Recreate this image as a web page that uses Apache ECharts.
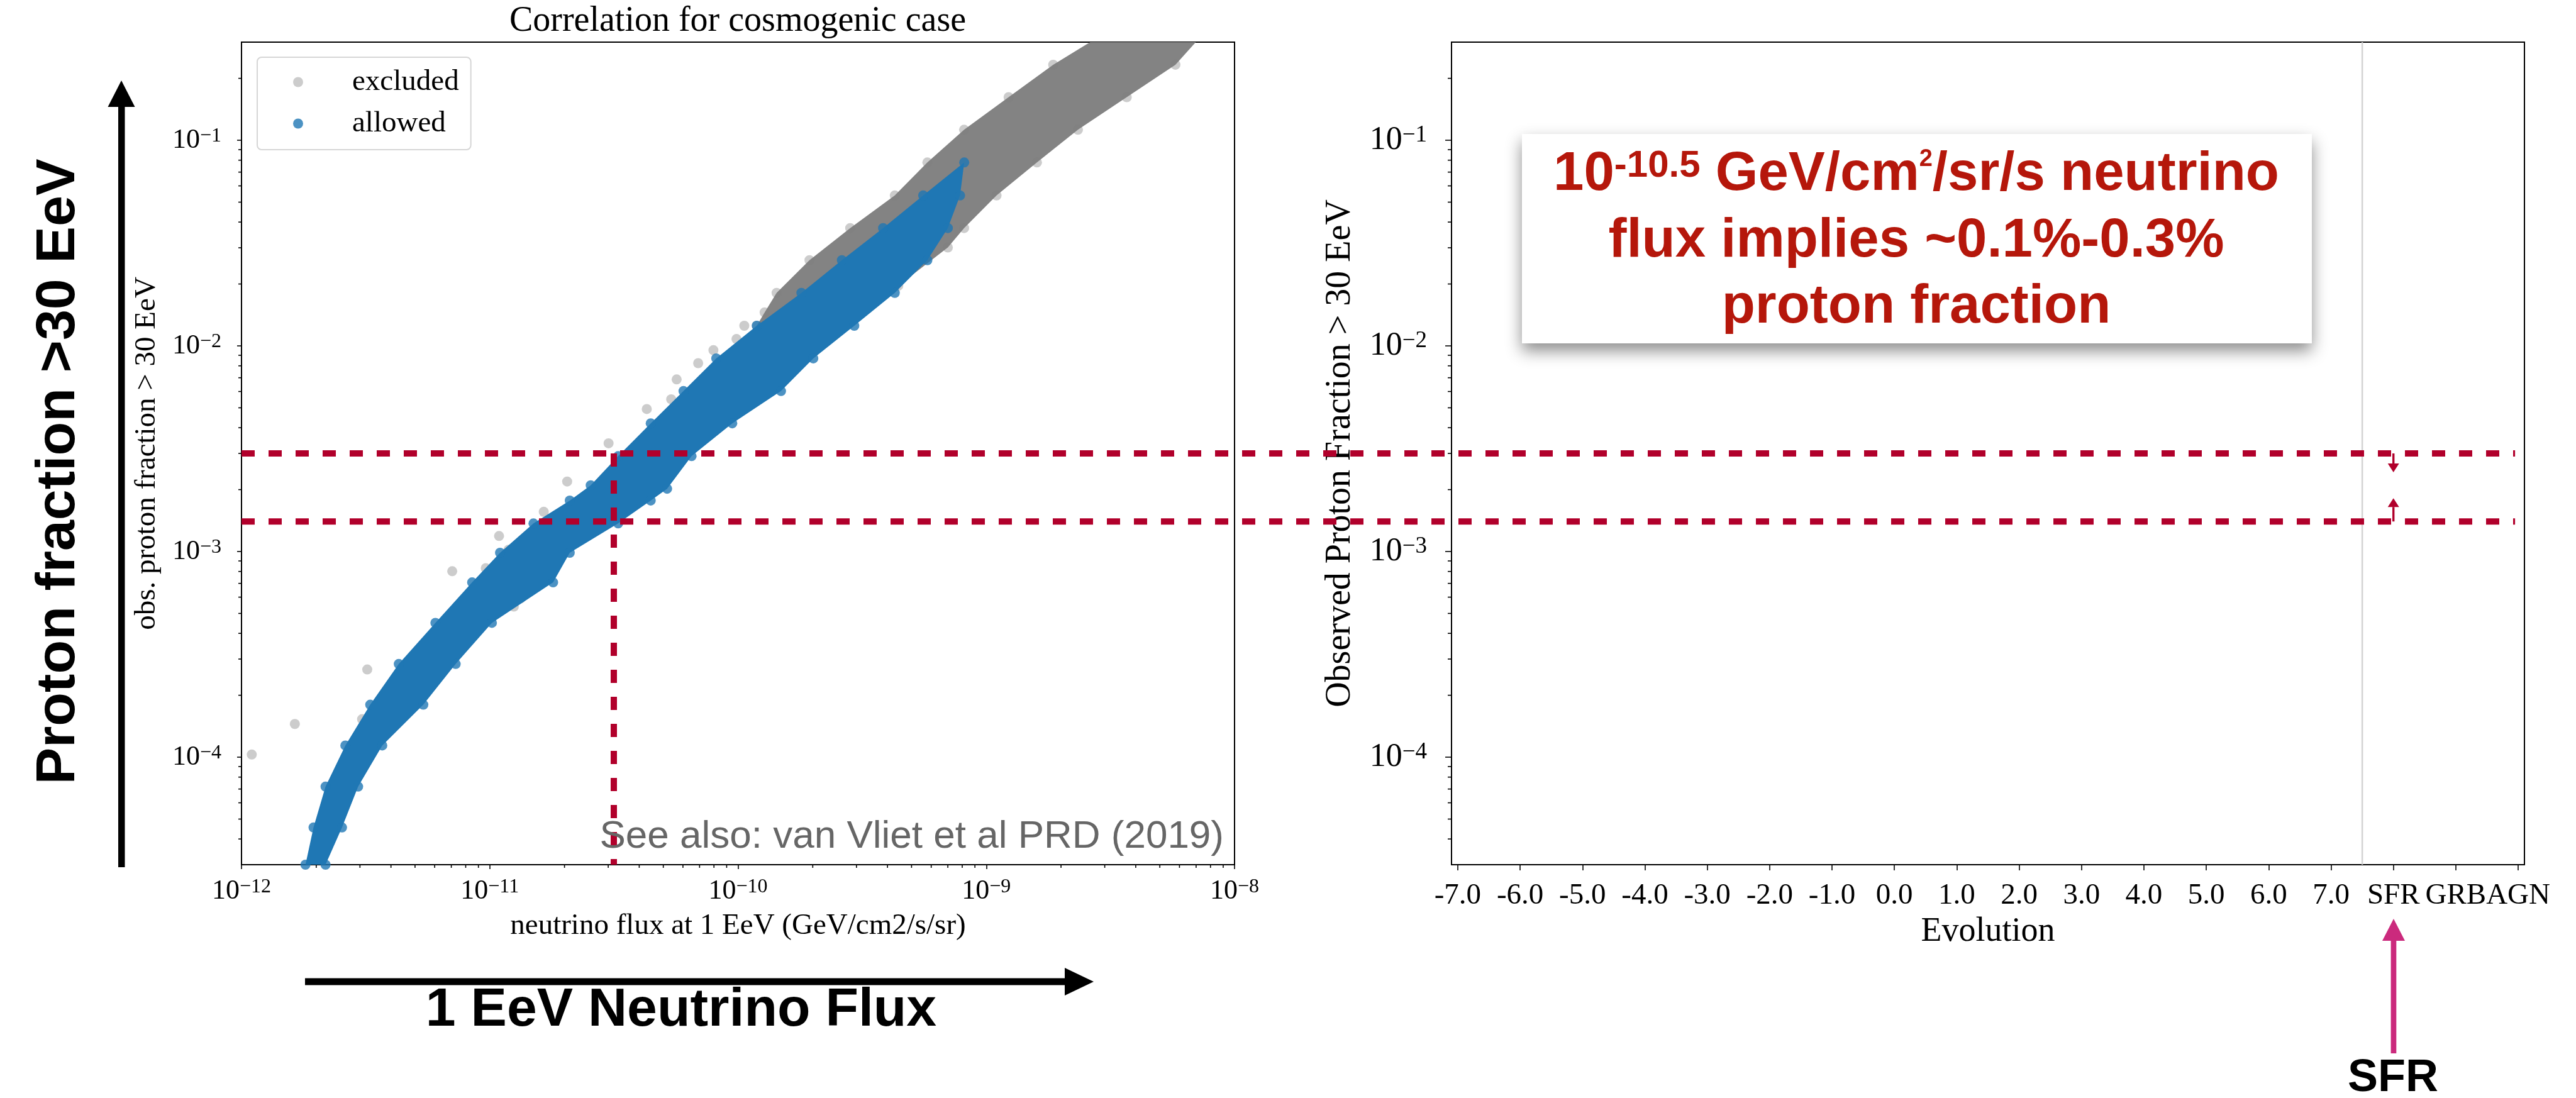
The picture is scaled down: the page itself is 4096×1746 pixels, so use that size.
<!DOCTYPE html>
<html>
<head>
<meta charset="utf-8">
<title>Correlation for cosmogenic case</title>
<script src="https://cdn.jsdelivr.net/npm/echarts@6.0.0/dist/echarts.min.js"></script>
<style>
  html, body { margin: 0; padding: 0; background: #fff; }
  #main { width: 4096px; height: 1746px; }
</style>
</head>
<body>
<div id="main"></div>
<script>
// axes
const fluxRange = [1e-12, 1e-8];
const fractionRange = [3e-5, 0.3];
const evolutionRange = [-7.1, 10.1];
const fluxTicks = [1e-12, 1e-11, 1e-10, 1e-9, 1e-8];
const fractionTicks = [1e-4, 1e-3, 1e-2, 1e-1];
const evolutionTicks = [-7, -6, -5, -4, -3, -2, -1, 0, 1, 2, 3, 4, 5, 6, 7, 8, 9, 10];
const evolutionLabels = ['-7.0', '-6.0', '-5.0', '-4.0', '-3.0', '-2.0', '-1.0', '0.0', '1.0', '2.0',
  '3.0', '4.0', '5.0', '6.0', '7.0', 'SFR', 'GRB', 'AGN'];
const minorMantissas = [2, 3, 4, 5, 6, 7, 8, 9];
const fluxDecades = [1e-12, 1e-11, 1e-10, 1e-9];
const fractionDecades = [1e-5, 1e-4, 1e-3, 1e-2, 1e-1];

// allowed cloud (blue): upper-left edge bottom -> tip, lower-right edge tip -> bottom
const allowedUpperEdge = [
  [1.81e-12, 3.0e-5], [1.95e-12, 4.55e-5], [2.18e-12, 7.19e-5], [2.62e-12, 1.14e-4],
  [3.30e-12, 1.80e-4], [4.30e-12, 2.84e-4], [6.04e-12, 4.50e-4], [8.49e-12, 7.08e-4],
  [1.10e-11, 9.86e-4], [1.50e-11, 1.37e-3], [2.10e-11, 1.77e-3], [2.55e-11, 2.10e-3],
  [3.29e-11, 2.91e-3], [4.45e-11, 4.20e-3], [6.03e-11, 6.03e-3], [8.17e-11, 8.69e-3],
  [1.19e-10, 1.253e-2], [1.80e-10, 1.81e-2], [2.62e-10, 2.61e-2], [3.84e-10, 3.74e-2],
  [5.57e-10, 5.39e-2], [8.15e-10, 7.8e-2]
];
const allowedLowerEdge = [
  [7.84e-10, 5.39e-2], [7.00e-10, 3.74e-2], [5.79e-10, 2.61e-2], [4.28e-10, 1.81e-2],
  [2.94e-10, 1.253e-2], [2.01e-10, 8.69e-3], [1.49e-10, 6.03e-3], [9.48e-11, 4.20e-3],
  [6.50e-11, 2.91e-3], [5.18e-11, 2.02e-3], [4.45e-11, 1.77e-3], [3.29e-11, 1.37e-3],
  [2.10e-11, 9.86e-4], [1.80e-11, 7.08e-4], [1.02e-11, 4.50e-4], [7.29e-12, 2.84e-4],
  [5.40e-12, 1.80e-4], [3.69e-12, 1.14e-4], [2.95e-12, 7.19e-5], [2.54e-12, 4.55e-5],
  [2.18e-12, 3.0e-5]
];

// excluded cloud (grey): left edge top -> bottom, right edge top -> bottom
const excludedLeftEdge = [
  [2.62e-9, 0.30], [1.86e-9, 0.233], [1.23e-9, 0.162], [8.14e-10, 0.1125],
  [5.79e-10, 0.078], [4.28e-10, 0.0539], [2.83e-10, 0.0374], [1.94e-10, 0.0261],
  [1.43e-10, 0.0181], [1.28e-10, 0.01455], [1.19e-10, 0.01253]
];
const excludedRightEdge = [
  [6.98e-9, 0.30], [5.78e-9, 0.233], [3.68e-9, 0.162], [2.34e-9, 0.1125],
  [1.60e-9, 0.078], [1.10e-9, 0.0539], [8.14e-10, 0.0374], [7.00e-10, 0.0301],
  [4.42e-10, 0.0196], [2.07e-10, 0.0124]
];
const excludedOutliers = [
  [1.06e-10, 1.253e-2], [9.86e-11, 1.08e-2], [7.96e-11, 9.53e-3], [6.91e-11, 8.24e-3],
  [5.66e-11, 6.87e-3], [5.38e-11, 5.50e-3], [4.29e-11, 4.93e-3], [3.01e-11, 3.36e-3],
  [2.05e-11, 2.19e-3], [1.65e-11, 1.56e-3], [1.09e-11, 1.19e-3], [1.19e-11, 1.02e-3],
  [9.64e-12, 8.3e-4], [7.06e-12, 8.02e-4], [1.33e-11, 5.92e-4], [1.25e-11, 5.40e-4],
  [3.21e-12, 2.67e-4], [3.06e-12, 1.53e-4], [1.64e-12, 1.45e-4], [1.10e-12, 1.03e-4]
];

// proton fraction band implied by a 10^-10.5 flux
const fractionLimits = [3.0e-3, 1.4e-3];
const limitFlux = 3.16e-11;
const limitLineEnd = 9.95;
const limitArrows = [[8, 3.0e-3, -1], [8, 1.4e-3, 1]];
const separatorEvolution = 7.5;

const SERIF = '"Liberation Serif", "Times New Roman", serif';
const SANS = '"Liberation Sans", Arial, sans-serif';
const LINE_RED = '#b1002b';
const TEXT_RED = '#b5170b';

const chart = echarts.init(document.getElementById('main'));

function decadeMinors (decades, range) {
  const out = [];
  decades.forEach(d => minorMantissas.forEach(m => {
    const v = d * m;
    if (v > range[0] * 1.001 && v < range[1] * 0.999) out.push(v);
  }));
  return out;
}
const fluxMinorTicks = decadeMinors(fluxDecades, fluxRange);
const fractionMinorTicks = decadeMinors(fractionDecades, fractionRange);

const allowedOutline = allowedUpperEdge.concat(allowedLowerEdge);
const excludedOutline = excludedLeftEdge.concat(excludedRightEdge.slice().reverse());
const excludedPoints = excludedOutliers.concat(
  excludedLeftEdge.filter(p => p[1] < 0.29),
  excludedRightEdge.filter(p => p[1] < 0.29)
);

function powerLabel (v) {
  const e = Math.round(Math.log10(v));
  return '{b|10}{s|\u2212' + Math.abs(e) + '}';
}

function cloudRenderer (outline, color) {
  return function (params, api) {
    if (params.dataIndex !== 0) return;
    return {
      type: 'polygon',
      shape: { points: outline.map(p => api.coord(p)) },
      style: { fill: color }
    };
  };
}

function xTick (len) {
  return function (params, api) {
    const p = api.coord([api.value(0), api.value(1)]);
    return { type: 'line', shape: { x1: p[0], y1: p[1], x2: p[0], y2: p[1] + len }, style: { stroke: '#000', lineWidth: 1.6 } };
  };
}
function yTick (len) {
  return function (params, api) {
    const p = api.coord([api.value(0), api.value(1)]);
    return { type: 'line', shape: { x1: p[0], y1: p[1], x2: p[0] - len, y2: p[1] }, style: { stroke: '#000', lineWidth: 1.6 } };
  };
}

function limitArrow (params, api) {
  const p = api.coord([api.value(0), api.value(1)]);
  const dir = api.value(2); // 1 = lower limit (points up), -1 = upper limit (points down)
  const len = dir > 0 ? 37 : 30;
  const s = -dir;
  const tipY = p[1] + s * len;
  const baseY = tipY - s * 14;
  return {
    type: 'group',
    children: [
      { type: 'rect', shape: { x: p[0] - 1.7, y: Math.min(p[1], baseY), width: 3.4, height: Math.abs(baseY - p[1]) }, style: { fill: LINE_RED } },
      { type: 'polygon', shape: { points: [[p[0] - 9, baseY], [p[0] + 9, baseY], [p[0], tipY]] }, style: { fill: LINE_RED } }
    ]
  };
}

const axisBlack = { show: true, onZero: false, lineStyle: { color: '#000', width: 2 } };

chart.setOption({
  animation: false,
  backgroundColor: '#fff',
  textStyle: { fontFamily: SERIF },
  grid: [
    { left: 384, top: 67, width: 1579, height: 1308, show: true, borderColor: '#000', borderWidth: 2 },
    { left: 2308, top: 67, width: 1706, height: 1308, show: true, borderColor: '#000', borderWidth: 2 }
  ],
  legend: {
    data: ['excluded', 'allowed'],
    orient: 'vertical',
    left: 409,
    top: 91,
    icon: 'circle',
    itemWidth: 16,
    itemHeight: 16,
    itemGap: 19,
    padding: [16, 19, 18, 57],
    borderColor: '#d6d6d6',
    borderWidth: 2,
    borderRadius: 7,
    backgroundColor: '#fff',
    selectedMode: false,
    formatter: name => '{g| }{t|' + name + '}',
    textStyle: {
      rich: {
        g: { width: 73 },
        t: { fontFamily: SERIF, fontSize: 47, lineHeight: 47, color: '#000' }
      }
    }
  },
  xAxis: [
    {
      type: 'log', gridIndex: 0, min: fluxRange[0], max: fluxRange[1],
      axisLine: axisBlack,
      axisTick: { show: true, customValues: fluxTicks, length: 7, lineStyle: { color: '#000', width: 1.6 } },
      splitLine: { show: false },
      axisLabel: {
        customValues: fluxTicks, margin: 20, formatter: powerLabel,
        rich: {
          b: { fontFamily: SERIF, fontSize: 44, lineHeight: 44, color: '#000' },
          s: { fontFamily: SERIF, fontSize: 32, lineHeight: 20, verticalAlign: 'top', color: '#000' }
        }
      },
      name: 'neutrino flux at 1 EeV (GeV/cm2/s/sr)',
      nameLocation: 'middle',
      nameGap: 74,
      nameTextStyle: { fontFamily: SERIF, fontSize: 47, lineHeight: 47, color: '#000' }
    },
    {
      type: 'value', gridIndex: 1, min: evolutionRange[0], max: evolutionRange[1],
      axisLine: axisBlack,
      axisTick: { show: true, customValues: evolutionTicks, length: 9, lineStyle: { color: '#000', width: 1.6 } },
      splitLine: { show: false },
      axisLabel: {
        customValues: evolutionTicks, margin: 26,
        formatter: v => evolutionLabels[evolutionTicks.indexOf(Math.round(v))],
        fontFamily: SERIF, fontSize: 47, lineHeight: 47, color: '#000'
      },
      name: 'Evolution',
      nameLocation: 'middle',
      nameGap: 80,
      nameTextStyle: { fontFamily: SERIF, fontSize: 54, lineHeight: 54, color: '#000' }
    }
  ],
  yAxis: [
    {
      type: 'log', gridIndex: 0, min: fractionRange[0], max: fractionRange[1],
      axisLine: axisBlack,
      axisTick: { show: true, customValues: fractionTicks, length: 7, lineStyle: { color: '#000', width: 1.6 } },
      splitLine: { show: false },
      axisLabel: {
        customValues: fractionTicks, margin: 32, formatter: powerLabel,
        rich: {
          b: { fontFamily: SERIF, fontSize: 44, lineHeight: 44, color: '#000' },
          s: { fontFamily: SERIF, fontSize: 32, lineHeight: 20, verticalAlign: 'top', color: '#000' }
        }
      },
      name: 'obs. proton fraction > 30 EeV',
      nameLocation: 'middle',
      nameGap: 127,
      nameTextStyle: { fontFamily: SERIF, fontSize: 47, lineHeight: 47, color: '#000' }
    },
    {
      type: 'log', gridIndex: 1, min: fractionRange[0], max: fractionRange[1],
      axisLine: axisBlack,
      axisTick: { show: true, customValues: fractionTicks, length: 10, lineStyle: { color: '#000', width: 1.6 } },
      splitLine: { show: false },
      axisLabel: {
        customValues: fractionTicks, margin: 39, formatter: powerLabel,
        rich: {
          b: { fontFamily: SERIF, fontSize: 52, lineHeight: 52, color: '#000' },
          s: { fontFamily: SERIF, fontSize: 37, lineHeight: 23, verticalAlign: 'top', color: '#000' }
        }
      },
      name: 'Observed Proton Fraction > 30 EeV',
      nameLocation: 'middle',
      nameGap: 149,
      nameTextStyle: { fontFamily: SERIF, fontSize: 56, lineHeight: 56, color: '#000' }
    }
  ],
  series: [
    {
      name: 'excludedCloud', type: 'custom', xAxisIndex: 0, yAxisIndex: 0, clip: true, silent: true, z: 2,
      data: excludedOutline, renderItem: cloudRenderer(excludedOutline, '#838383')
    },
    {
      name: 'excluded', type: 'scatter', xAxisIndex: 0, yAxisIndex: 0, symbolSize: 16, silent: true, z: 3,
      itemStyle: { color: 'rgba(128,128,128,0.5)' }, data: excludedPoints
    },
    {
      name: 'allowedCloud', type: 'custom', xAxisIndex: 0, yAxisIndex: 0, clip: true, silent: true, z: 4,
      data: allowedOutline, renderItem: cloudRenderer(allowedOutline, '#1f77b4')
    },
    {
      name: 'allowed', type: 'scatter', xAxisIndex: 0, yAxisIndex: 0, symbolSize: 16, silent: true, z: 5,
      itemStyle: { color: '#1f77b4' }, data: allowedOutline
    },
    {
      name: 'fluxLimit', type: 'line', xAxisIndex: 0, yAxisIndex: 0, symbol: 'none', silent: true, z: 6,
      lineStyle: { color: LINE_RED, width: 10, type: [21, 22] },
      data: [[limitFlux, fractionLimits[0]], [limitFlux, fractionRange[0]]]
    },
    {
      type: 'custom', xAxisIndex: 0, yAxisIndex: 0, silent: true, z: 6,
      data: fluxMinorTicks.map(v => [v, fractionRange[0]]), renderItem: xTick(5)
    },
    {
      type: 'custom', xAxisIndex: 0, yAxisIndex: 0, silent: true, z: 6,
      data: fractionMinorTicks.map(v => [fluxRange[0], v]), renderItem: yTick(5)
    },
    {
      type: 'custom', xAxisIndex: 1, yAxisIndex: 1, silent: true, z: 6,
      data: fractionMinorTicks.map(v => [evolutionRange[0], v]), renderItem: yTick(6)
    },
    {
      name: 'separator', type: 'line', xAxisIndex: 1, yAxisIndex: 1, symbol: 'none', silent: true, z: 2,
      lineStyle: { color: '#d3d3d3', width: 2.5 },
      data: [[separatorEvolution, fractionRange[0]], [separatorEvolution, fractionRange[1]]]
    },
    {
      name: 'limitArrows', type: 'custom', xAxisIndex: 1, yAxisIndex: 1, silent: true, z: 7,
      data: limitArrows, renderItem: limitArrow
    }
  ],
  graphic: [
    {
      id: 'title', type: 'text', x: 1173, y: 34, z: 10,
      style: { text: 'Correlation for cosmogenic case', fontFamily: SERIF, fontSize: 56, fill: '#000', align: 'center', verticalAlign: 'middle' }
    },
    {
      id: 'seeAlso', type: 'text', x: 1946, y: 1331, z: 10,
      style: { text: 'See also: van Vliet et al PRD (2019)', fontFamily: SANS, fontSize: 62, fill: '#666666', align: 'right', verticalAlign: 'middle' }
    },
    {
      id: 'bigY', type: 'text', x: 94, y: 750, rotation: Math.PI / 2, z: 10,
      style: { text: 'Proton fraction >30 EeV', fontFamily: SANS, fontWeight: 'bold', fontSize: 88, fill: '#000', align: 'center', verticalAlign: 'middle' }
    },
    { id: 'bigYShaft', type: 'rect', z: 10, shape: { x: 188, y: 168, width: 10.5, height: 1211 }, style: { fill: '#000' } },
    { id: 'bigYHead', type: 'polygon', z: 10, shape: { points: [[171.5, 170], [214.5, 170], [193, 128]] }, style: { fill: '#000' } },
    {
      id: 'bigX', type: 'text', x: 1083, y: 1607, z: 10,
      style: { text: '1 EeV Neutrino Flux', fontFamily: SANS, fontWeight: 'bold', fontSize: 86, fill: '#000', align: 'center', verticalAlign: 'middle' }
    },
    { id: 'bigXShaft', type: 'rect', z: 10, shape: { x: 485, y: 1555.5, width: 1210, height: 11 }, style: { fill: '#000' } },
    { id: 'bigXHead', type: 'polygon', z: 10, shape: { points: [[1693, 1539], [1693, 1583], [1739, 1561]] }, style: { fill: '#000' } },
    {
      id: 'sfr', type: 'text', x: 3805, y: 1715, z: 10,
      style: { text: 'SFR', fontFamily: SANS, fontWeight: 'bold', fontSize: 72, fill: '#000', align: 'center', verticalAlign: 'middle' }
    },
    { id: 'sfrShaft', type: 'rect', z: 10, shape: { x: 3801.6, y: 1494, width: 8.7, height: 181 }, style: { fill: '#cb2a7d' } },
    { id: 'sfrHead', type: 'polygon', z: 10, shape: { points: [[3788, 1496], [3824, 1496], [3806, 1461]] }, style: { fill: '#cb2a7d' } },
    {
      id: 'noteBox', type: 'rect', z: 10,
      shape: { x: 2420, y: 213, width: 1256, height: 333 },
      style: { fill: '#fff', shadowBlur: 24, shadowOffsetY: 12, shadowColor: 'rgba(0,0,0,0.45)' }
    },
    {
      id: 'note1', type: 'text', x: 3047, y: 278, z: 11,
      style: {
        text: '{n|10}{a|-10.5}{n| GeV/cm}{b|2}{n|/sr/s neutrino}',
        align: 'center', verticalAlign: 'middle',
        rich: {
          n: { fontFamily: SANS, fontWeight: 'bold', fontSize: 87, lineHeight: 87, fill: TEXT_RED },
          a: { fontFamily: SANS, fontWeight: 'bold', fontSize: 60, lineHeight: 61, verticalAlign: 'top', fill: TEXT_RED },
          b: { fontFamily: SANS, fontWeight: 'bold', fontSize: 38, lineHeight: 64, verticalAlign: 'top', fill: TEXT_RED }
        }
      }
    },
    {
      id: 'note2', type: 'text', x: 3047, y: 384, z: 11,
      style: { text: 'flux implies ~0.1%-0.3%', fontFamily: SANS, fontWeight: 'bold', fontSize: 87, fill: TEXT_RED, align: 'center', verticalAlign: 'middle' }
    },
    {
      id: 'note3', type: 'text', x: 3047, y: 489, z: 11,
      style: { text: 'proton fraction', fontFamily: SANS, fontWeight: 'bold', fontSize: 87, fill: TEXT_RED, align: 'center', verticalAlign: 'middle' }
    }
  ]
});

// dashed fraction limits run across both panels
const xStart = chart.convertToPixel({ xAxisIndex: 0 }, fluxRange[0]);
const xEnd = chart.convertToPixel({ xAxisIndex: 1 }, limitLineEnd);
chart.setOption({
  graphic: fractionLimits.map((f, i) => {
    const y = chart.convertToPixel({ yAxisIndex: 0 }, f);
    return {
      id: 'limit' + i, type: 'line', z: 20,
      shape: { x1: xStart, y1: y, x2: xEnd, y2: y },
      style: { stroke: LINE_RED, lineWidth: 10, lineDash: [21, 22] }
    };
  })
});
</script>
</body>
</html>
